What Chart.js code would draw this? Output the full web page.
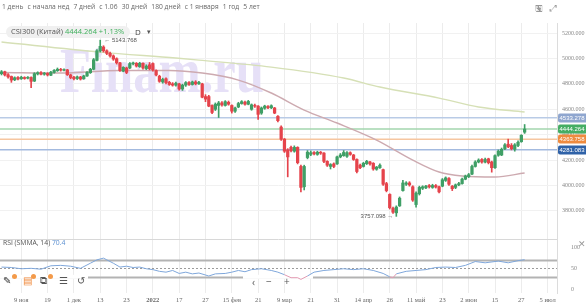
<!DOCTYPE html>
<html>
<head>
<meta charset="utf-8">
<script src="https://cdn.jsdelivr.net/npm/chart.js@4.4.0/dist/chart.umd.min.js"></script>
<style>
  html, body { margin: 0; padding: 0; background: #fff; width: 586px; height: 308px; overflow: hidden; font-family: "Open Sans", sans-serif; }
  #wrap { position: relative; width: 586px; height: 308px; }
  canvas { position: absolute; left: 0; top: 0; }
  .t { position: absolute; white-space: nowrap; line-height: 1; }
  .hdr span { margin-right: 4.2px; }
  .pill { left: 6px; top: 26px; padding: 2px 6px 2px 5px; background: #f0f0f0; border-radius: 6px; font-size: 7.5px; color: #555; }
  .badge { position: absolute; width: 5px; height: 5px; border-radius: 3px; background: #f39a4a; }
</style>
</head>
<body>
<div id="wrap">
  <canvas id="chart" width="586" height="308"></canvas>

  <div class="t hdr" style="left:2px;top:4px;font-size:6.7px;color:#666"><span>1 день</span><span>с начала нед</span><span>7 дней</span><span>с 1.06</span><span>30 дней</span><span>180 дней</span><span>с 1 января</span><span>1 год</span><span>5 лет</span></div>
  <div class="t" style="left:535px;top:3px;font-size:9px;color:#999">&#x1F5AB;</div>
  <div class="t" style="left:550px;top:3px;font-size:9px;color:#999">&#x2922;</div>

  <div class="t pill">CSI300 (Китай) <span style="color:#3fb05c">4444.264 +1.13%</span></div>
  <div class="t" style="left:135px;top:28px;font-size:8px;color:#444">D</div>
  <div class="t" style="left:147px;top:28px;font-size:7px;color:#555">&#9662;</div>

  <div class="t" style="left:3px;top:240px;font-size:6.8px;color:#555">RSI (SMMA, 14) <span style="color:#5b8fd0">70.4</span></div>
  <div class="t" style="left:578px;top:239px;font-size:9px;color:#999">&#x2715;</div>

  <div class="t" style="left:3px;top:275px;font-size:10px;color:#333">&#x270E;</div>
  <div class="badge" style="left:12px;top:274px"></div>
  <div class="t" style="left:23px;top:275px;font-size:10px;color:#f08a3c">&#x25A4;</div>
  <div class="badge" style="left:31px;top:274px"></div>
  <div class="t" style="left:40px;top:275px;font-size:10px;color:#555">&#x29C9;</div>
  <div class="badge" style="left:48px;top:274px"></div>
  <div class="t" style="left:59px;top:275px;font-size:10px;color:#555">&#x2630;</div>
  <div class="t" style="left:77px;top:275px;font-size:10px;color:#555">&#x21BA;</div>
  <div class="t" style="left:252px;top:277px;font-size:10px;color:#555">&#x2039;</div>
  <div class="t" style="left:266px;top:276px;font-size:10px;color:#555">&minus;</div>
  <div class="t" style="left:284px;top:276px;font-size:10px;color:#555">+</div>
</div>

<script>
// daily candles, 1 Nov 2021 .. 28 Jun 2022 (index = trading day)
const opens = [
  4880, 4895, 4872, 4858, 4832, 4850, 4840, 4850, 4845, 4850,
  4822, 4878, 4888, 4876, 4882, 4868, 4890, 4904, 4914, 4908,
  4910, 4870, 4852, 4842, 4854, 4840, 4862, 4888, 4915, 4985,
  5060, 5090, 5060, 5040, 5020, 4998, 4965, 4900, 4925, 4925,
  4958, 4962, 4935, 4962, 4920, 4950, 4960, 4905, 4860, 4815,
  4840, 4812, 4800, 4790, 4800, 4760, 4790, 4810, 4795, 4815,
  4800, 4800, 4700, 4700, 4630, 4600, 4630, 4650, 4630, 4655,
  4630, 4585, 4618, 4645, 4655, 4640, 4600, 4630, 4625, 4570,
  4608, 4622, 4612, 4610, 4545, 4460, 4365, 4280, 4300, 4270,
  4300, 4150, 3990, 4220, 4245, 4260, 4245, 4262, 4255, 4190,
  4150, 4170, 4170, 4225, 4235, 4230, 4258, 4240, 4205, 4160,
  4150, 4172, 4185, 4175, 4128, 4140, 4125, 4015, 3930, 3820,
  3785, 3840, 3960, 4010, 4020, 3990, 3850, 3935, 3978, 3982,
  4000, 3985, 4000, 3990, 3995, 4040, 4055, 3995, 3985, 4005,
  4015, 4050, 4070, 4090, 4150, 4185, 4205, 4185, 4210, 4185,
  4140, 4238, 4240, 4290, 4325, 4315, 4285, 4315, 4345, 4420
]
const highs = [
  4905, 4900, 4880, 4862, 4855, 4858, 4860, 4856, 4858, 4855,
  4888, 4895, 4896, 4890, 4888, 4898, 4912, 4925, 4922, 4918,
  4914, 4876, 4860, 4862, 4860, 4868, 4896, 4922, 5000, 5070,
  5143.768, 5100, 5068, 5050, 5028, 5005, 4970, 4935, 4932, 4968,
  4972, 4968, 4970, 4966, 4950, 4968, 4966, 4910, 4868, 4845,
  4848, 4820, 4810, 4815, 4805, 4798, 4818, 4818, 4822, 4825,
  4820, 4805, 4715, 4710, 4635, 4650, 4662, 4660, 4668, 4665,
  4635, 4618, 4655, 4668, 4665, 4670, 4642, 4640, 4630, 4618,
  4632, 4630, 4635, 4615, 4550, 4470, 4370, 4290, 4310, 4312,
  4305, 4160, 4160, 4275, 4272, 4268, 4270, 4268, 4260, 4195,
  4172, 4178, 4232, 4252, 4275, 4268, 4265, 4245, 4210, 4168,
  4182, 4198, 4190, 4180, 4150, 4170, 4130, 4025, 3935, 3830,
  3840, 3910, 4040, 4030, 4030, 3998, 3950, 3995, 3998, 4002,
  4008, 4010, 4008, 3995, 4055, 4068, 4062, 4000, 4012, 4025,
  4058, 4082, 4095, 4160, 4195, 4210, 4212, 4215, 4215, 4192,
  4242, 4280, 4295, 4330, 4365, 4330, 4330, 4352, 4400, 4480
]
const lows = [
  4870, 4862, 4845, 4812, 4825, 4832, 4835, 4836, 4838, 4770,
  4818, 4870, 4870, 4868, 4862, 4864, 4885, 4898, 4900, 4902,
  4866, 4840, 4832, 4834, 4830, 4836, 4858, 4882, 4910, 4980,
  5050, 5050, 5030, 5010, 4985, 4955, 4898, 4895, 4880, 4920,
  4950, 4932, 4930, 4915, 4912, 4910, 4900, 4862, 4812, 4805,
  4800, 4788, 4782, 4782, 4750, 4748, 4780, 4788, 4790, 4792,
  4795, 4690, 4660, 4620, 4565, 4590, 4535, 4625, 4625, 4632,
  4570, 4575, 4612, 4640, 4632, 4635, 4592, 4615, 4520, 4560,
  4600, 4605, 4605, 4565, 4500, 4355, 4260, 4068, 4265, 4262,
  4170, 3950, 3965, 4210, 4235, 4240, 4238, 4245, 4180, 4150,
  4130, 4140, 4165, 4218, 4230, 4222, 4238, 4198, 4100, 4132,
  4145, 4165, 4160, 4120, 4120, 4135, 4000, 3950, 3815, 3780,
  3757.098, 3835, 3955, 4000, 3995, 3875, 3830, 3925, 3968, 3975,
  3980, 3978, 3980, 3942, 3990, 4032, 4000, 3960, 3975, 3998,
  4010, 4045, 4062, 4085, 4145, 4178, 4175, 4178, 4170, 4105,
  4135, 4230, 4235, 4282, 4298, 4280, 4270, 4305, 4340, 4410
]
const closes = [
  4895, 4870, 4855, 4830, 4848, 4838, 4852, 4842, 4852, 4820,
  4880, 4888, 4876, 4884, 4870, 4892, 4906, 4915, 4908, 4912,
  4872, 4850, 4840, 4855, 4838, 4862, 4890, 4915, 4990, 5060,
  5095, 5060, 5040, 5020, 4995, 4965, 4905, 4930, 4890, 4960,
  4965, 4940, 4962, 4925, 4940, 4920, 4910, 4870, 4820, 4835,
  4810, 4795, 4790, 4805, 4760, 4790, 4810, 4795, 4815, 4800,
  4812, 4695, 4680, 4625, 4575, 4640, 4650, 4635, 4660, 4640,
  4585, 4610, 4645, 4660, 4640, 4662, 4635, 4625, 4560, 4610,
  4625, 4612, 4628, 4570, 4510, 4365, 4270, 4225, 4275, 4300,
  4180, 3985, 4150, 4262, 4258, 4250, 4262, 4255, 4190, 4160,
  4165, 4150, 4225, 4240, 4260, 4258, 4245, 4205, 4110, 4140,
  4175, 4190, 4170, 4130, 4145, 4160, 4010, 3960, 3825, 3790,
  3830, 3900, 4020, 4020, 4005, 3885, 3940, 3985, 3990, 3995,
  3990, 4000, 3988, 3950, 4045, 4060, 4010, 3975, 4005, 4015,
  4050, 4075, 4085, 4150, 4185, 4200, 4185, 4205, 4180, 4140,
  4235, 4270, 4285, 4320, 4305, 4290, 4320, 4340, 4395, 4444.264
]

// moving averages, read at a few points along each curve
const maLongIdx = [0, 30, 53, 60, 82, 104, 115, 133, 145, 159]
const maLongVal = [5129, 5050, 5003, 4987, 4932, 4846, 4775, 4688, 4618, 4578]
const maShortIdx = [0, 18, 36, 51, 61, 72, 82, 92, 102, 114, 125, 133, 140, 150, 159]
const maShortVal = [4890, 4885, 4905, 4905, 4885, 4830, 4728, 4594, 4492, 4358, 4200, 4106, 4075, 4067, 4098]

// RSI (SMMA, 14)
const rsiIdx = [0, 3, 6, 9, 12, 15, 18, 21, 24, 27, 29, 31, 32, 34, 36, 38, 40, 42, 44, 46,
  48, 50, 52, 54, 56, 58, 60, 63, 65, 68, 70, 72, 74, 76, 79, 82, 84, 86, 88, 90,
  91, 93, 95, 98, 101, 104, 107, 110, 113, 116, 118, 119, 120, 123, 126, 129, 132, 135, 138, 141,
  144, 147, 151, 154, 157, 159]
const rsiVal = [53, 52, 49, 50, 48, 56, 57, 55, 50, 62, 70, 74, 70, 62, 53, 55, 52, 53, 49, 47,
  43, 41, 45, 38, 41, 37, 39, 32, 37, 38, 41, 45, 42, 47, 49, 45, 41, 35, 28, 28,
  24, 32, 41, 45, 47, 49, 47, 49, 45, 38, 30, 28, 37, 43, 45, 47, 52, 53, 52, 57,
  66, 63, 67, 63, 68, 70.4]

// horizontal price levels
const levels = [4533.278, 4444.264, 4363.758, 4281.083]
const levelLine = ["#b9cbe6", "#a3d6ae", "#f6c6a0", "#a3badf"]
const levelBox  = ["#8fa6cf", "#45ad64", "#ef8b3f", "#2f62a8"]

// extremes marked on the chart
const markIdx = [30, 120]
const markVal = [5143.768, 3757.098]

// axes
const xTickIdx  = [6, 14, 22, 30, 38, 46, 54, 62, 70, 78, 86, 94, 102, 110, 118, 126, 134, 142, 150, 158, 166]
const xTickText = ["9 ноя", "19", "1 дек", "13", "23", "2022", "17", "27", "15 фев", "21", "9 мар",
  "21", "31", "14 апр", "26", "11 май", "23", "2 июн", "15", "27", "5 июл"]
const priceTicks = [3800, 4000, 4200, 4400, 4600, 4800, 5000, 5200]
const rsiTicks   = [0, 50, 100]
const rsiLevels  = [70, 50, 30]

const xMin = -0.46, xMax = 168.84
const UP = "#3f9f66", DOWN = "#e5434b"
const watermark = "Finam.ru"

const candleColors = closes.map((c, i) => (c >= opens[i] ? UP : DOWN))
const pts = (idx, vals) => idx.map((x, k) => ({ x, y: vals[k] }))

const levelSets = levels.map((v, k) => ({
  type: "line",
  data: [{ x: xMin, y: v }, { x: xMax, y: v }],
  borderColor: levelLine[k],
  borderWidth: 1.6,
  pointRadius: 0,
  yAxisID: "y",
  order: 9
}))

const overlay = {
  id: "overlay",
  beforeDatasetsDraw(chart) {
    const { ctx, chartArea: a, scales } = chart
    const y = scales.y, r = scales.yR

    // watermark
    ctx.save()
    ctx.beginPath()
    ctx.rect(a.left, y.top, a.width, y.height)
    ctx.clip()
    ctx.font = 'bold 64px "Liberation Serif"'
    const w = ctx.measureText(watermark).width
    ctx.translate(60, 92)
    ctx.scale(204 / w, 1)
    ctx.fillStyle = "#e6e0f7"
    ctx.fillText(watermark, 0, 0)
    ctx.restore()

    // RSI guide lines
    ctx.save()
    rsiLevels.forEach(v => {
      const py = Math.round(r.getPixelForValue(v)) + 0.5
      ctx.beginPath()
      ctx.setLineDash(v === 50 ? [2, 2] : [])
      ctx.strokeStyle = v === 50 ? "#9c9c9c" : "#b3b3b3"
      ctx.lineWidth = v === 50 ? 1 : 2
      ctx.moveTo(a.left, py)
      ctx.lineTo(a.right, py)
      ctx.stroke()
    })
    // toolbar backgrounds hide the lower guide
    const p30 = r.getPixelForValue(30)
    ctx.fillStyle = "#fff"
    ctx.fillRect(0, p30 - 2, 88, 4)
    ctx.fillRect(243, p30 - 2, 70, 4)

    // panel separator
    ctx.setLineDash([])
    ctx.strokeStyle = "#d8d8d8"
    ctx.lineWidth = 1
    ctx.beginPath()
    ctx.moveTo(a.left, Math.round(y.bottom) + 0.5)
    ctx.lineTo(a.right, Math.round(y.bottom) + 0.5)
    ctx.stroke()
    ctx.restore()
  },
  afterDraw(chart) {
    const { ctx, chartArea: a, scales: { x, y } } = chart
    ctx.save()
    ctx.textBaseline = "middle"

    levels.forEach((v, k) => {
      const py = Math.round(y.getPixelForValue(v))
      ctx.fillStyle = levelBox[k]
      ctx.beginPath()
      ctx.roundRect(a.right + 1, py - 4.5, chart.width - a.right - 1, 9, [2, 0, 0, 2])
      ctx.fill()
      ctx.fillStyle = "#fff"
      ctx.font = '6px "Liberation Sans"'
      ctx.textAlign = "center"
      ctx.fillText(v.toFixed(3), (a.right + chart.width) / 2 + 0.5, py + 0.5)
    })

    ctx.fillStyle = "#555"
    ctx.font = '6px "Liberation Sans"'
    markIdx.forEach((idx, k) => {
      const px = x.getPixelForValue(idx)
      const py = y.getPixelForValue(markVal[k])
      if (k === 0) {
        ctx.textAlign = "left"
        ctx.fillText("\u2190 " + markVal[k].toFixed(3), px + 4, py)
      } else {
        ctx.textAlign = "right"
        ctx.fillText(markVal[k].toFixed(3) + " \u2192", px - 3, py)
      }
    })
    ctx.restore()
  }
}

new Chart(document.getElementById("chart"), {
  type: "bar",
  data: {
    datasets: [
      {
        label: "body",
        data: opens.map((o, i) => ({ x: i, y: [o, closes[i]] })),
        backgroundColor: candleColors,
        barThickness: 2.6,
        grouped: false,
        yAxisID: "y",
        order: 0
      },
      {
        label: "wick",
        data: opens.map((o, i) => ({ x: i, y: [lows[i], highs[i]] })),
        backgroundColor: candleColors,
        barThickness: 1,
        grouped: false,
        yAxisID: "y",
        order: 1
      },
      {
        type: "line",
        label: "ma long",
        data: pts(maLongIdx, maLongVal),
        borderColor: "#d6e0b6",
        borderWidth: 1.4,
        pointRadius: 0,
        cubicInterpolationMode: "monotone",
        yAxisID: "y",
        order: 5
      },
      {
        type: "line",
        label: "ma short",
        data: pts(maShortIdx, maShortVal),
        borderColor: "#cdaab0",
        borderWidth: 1.4,
        pointRadius: 0,
        cubicInterpolationMode: "monotone",
        yAxisID: "y",
        order: 5
      },
      ...levelSets,
      {
        type: "line",
        label: "rsi",
        data: pts(rsiIdx, rsiVal),
        borderColor: "#7fa7db",
        segment: {
          borderColor: c => (c.p0.parsed.y < 30 || c.p1.parsed.y < 30 ? "#e39ab2" : "#7fa7db")
        },
        borderWidth: 1,
        pointRadius: 0,
        yAxisID: "yR",
        order: 2
      }
    ]
  },
  options: {
    responsive: false,
    animation: false,
    devicePixelRatio: 1,
    layout: { padding: { top: 23, left: 0, right: 0, bottom: 0 } },
    plugins: { legend: { display: false }, tooltip: { enabled: false } },
    scales: {
      x: {
        type: "linear",
        min: xMin,
        max: xMax,
        offset: false,
        afterBuildTicks: ax => { ax.ticks = xTickIdx.map(v => ({ value: v })) },
        afterFit: ax => { ax.height = 15 },
        grid: { color: "#ececec", offset: false, drawTicks: false },
        border: { display: false },
        ticks: {
          autoSkip: false,
          maxRotation: 0,
          padding: 3,
          color: "#666",
          font: c => ({ family: "Liberation Serif", size: 6.5, weight: c.tick && c.tick.value === 46 ? "bold" : "normal" }),
          callback: v => xTickText[xTickIdx.indexOf(v)]
        }
      },
      y: {
        type: "linear",
        position: "right",
        stack: "panes",
        stackWeight: 216,
        min: 3579,
        max: 5279,
        afterBuildTicks: ax => { ax.ticks = priceTicks.map(v => ({ value: v })) },
        afterFit: ax => { ax.width = 29 },
        grid: { color: "#f1f1f1", drawTicks: false },
        border: { color: "#dcdcdc" },
        ticks: {
          padding: 5,
          color: "#888",
          font: { family: "Liberation Serif", size: 6 },
          callback: v => v.toFixed(3)
        }
      },
      yR: {
        type: "linear",
        position: "right",
        stack: "panes",
        stackWeight: 54,
        min: -8,
        max: 119,
        afterBuildTicks: ax => { ax.ticks = rsiTicks.map(v => ({ value: v })) },
        afterFit: ax => { ax.width = 29 },
        grid: { display: false },
        border: { color: "#dcdcdc" },
        ticks: {
          padding: 6,
          color: "#888",
          font: { family: "Liberation Serif", size: 6 }
        }
      }
    }
  },
  plugins: [overlay]
})
</script>
</body>
</html>
